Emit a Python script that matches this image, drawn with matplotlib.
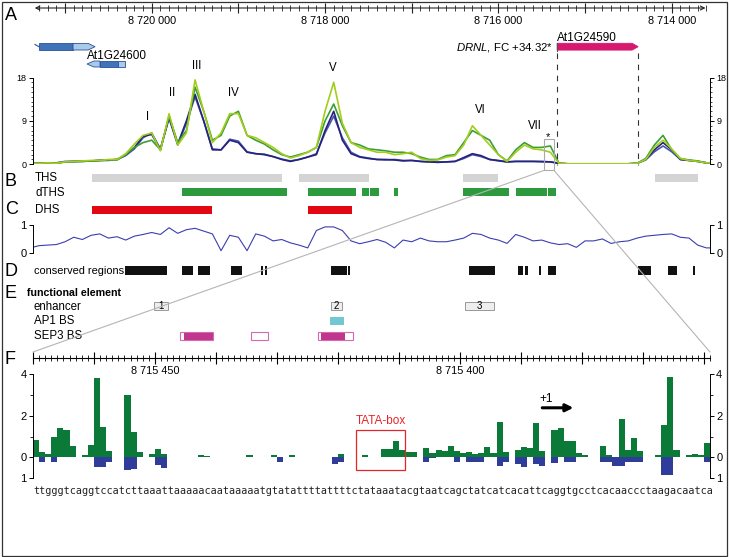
import numpy as np
import matplotlib
matplotlib.use("Agg")
import matplotlib.pyplot as plt
from matplotlib.patches import Rectangle, Polygon, ConnectionPatch
from matplotlib.transforms import blended_transform_factory
from matplotlib.ticker import MultipleLocator, FixedLocator, FuncFormatter

plt.rcParams['font.family'] = ['Liberation Sans', 'DejaVu Sans']
plt.rcParams['mathtext.fontset'] = 'custom'
plt.rcParams['mathtext.it'] = 'Liberation Sans:italic'
plt.rcParams['mathtext.rm'] = 'Liberation Sans'

# ---------------- data ----------------
view_left, view_right = 8721370, 8713558
ruler_ticks = [8721000, 8720000, 8719000, 8718000, 8717000, 8716000, 8715000, 8714000]
ruler_labels = [8720000, 8718000, 8716000, 8714000]

signal_pos = np.arange(8721400, 8713400, -100)
signal_navy1 = [0.2, 0.2, 0.2, 0.2, 0.5, 0.6, 0.6, 0.7, 0.8, 0.9,
                1.0, 2.0, 3.5, 5.8, 6.2, 3.0, 9.8, 4.2, 9.0, 14.5,
                9.0, 3.0, 3.0, 5.0, 4.5, 2.5, 2.2, 2.0, 1.6, 1.0,
                0.6, 1.0, 1.5, 2.0, 7.0, 11.0, 5.0, 2.2, 1.5, 1.2,
                1.0, 1.0, 0.9, 0.7, 0.8, 0.6, 0.5, 0.4, 0.5, 0.6,
                1.4, 2.2, 1.8, 1.0, 0.8, 0.5, 0.6, 0.6, 0.6, 0.6,
                0.5, 0.2, 0.1, 0.1, 0.1, 0.1, 0.1, 0.1, 0.1, 0.1,
                0.2, 1.0, 3.0, 4.5, 3.0, 1.0, 0.8, 0.6, 0.3, 0.3]
signal_navy2 = [0.2, 0.2, 0.2, 0.3, 0.6, 0.6, 0.7, 0.7, 0.8, 0.8,
                1.0, 1.8, 3.2, 5.5, 6.5, 3.2, 9.5, 4.0, 8.5, 14.0,
                9.0, 3.2, 3.0, 5.2, 4.8, 2.6, 2.2, 2.1, 1.6, 1.1,
                0.7, 1.0, 1.5, 2.2, 6.5, 10.0, 5.5, 2.5, 1.6, 1.3,
                1.0, 0.9, 1.0, 0.8, 0.8, 0.6, 0.5, 0.5, 0.5, 0.6,
                1.2, 2.0, 1.6, 1.0, 0.7, 0.5, 0.6, 0.6, 0.6, 0.5,
                0.5, 0.2, 0.1, 0.1, 0.1, 0.1, 0.1, 0.1, 0.1, 0.1,
                0.2, 0.9, 2.6, 3.8, 2.6, 1.0, 0.8, 0.6, 0.3, 0.3]
signal_green = [0.2, 0.1, 0.2, 0.3, 0.5, 0.5, 0.6, 0.7, 0.8, 0.9,
                0.9, 2.0, 3.5, 4.5, 5.0, 3.0, 10.0, 4.5, 7.0, 16.0,
                11.0, 5.0, 6.0, 10.0, 11.0, 6.0, 5.0, 4.2, 3.0, 2.0,
                1.5, 2.0, 2.5, 3.5, 9.0, 12.5, 8.0, 4.5, 4.0, 3.2,
                3.0, 2.8, 2.5, 2.5, 2.2, 1.5, 1.0, 1.0, 1.8, 2.0,
                4.5, 7.0, 6.0, 5.0, 2.0, 0.7, 3.0, 4.5, 3.5, 3.5,
                3.8, 0.2, 0.1, 0.1, 0.1, 0.1, 0.1, 0.1, 0.1, 0.1,
                0.2, 1.2, 4.0, 6.0, 3.0, 1.2, 0.9, 0.7, 0.3, 0.3]
signal_lime = [0.2, 0.2, 0.3, 0.2, 0.5, 0.6, 0.7, 0.8, 0.8, 1.0,
               1.0, 2.2, 4.2, 6.0, 6.5, 2.8, 10.5, 4.0, 6.5, 17.5,
               11.0, 4.5, 6.5, 10.5, 10.5, 6.0, 5.5, 4.5, 3.5, 2.2,
               1.3, 1.8, 2.5, 3.5, 11.0, 17.0, 8.5, 4.5, 3.5, 3.0,
               2.5, 2.5, 2.0, 2.2, 2.5, 1.2, 0.8, 0.9, 1.5, 1.8,
               4.0, 8.0, 6.0, 4.0, 2.0, 0.6, 2.5, 4.0, 3.2, 3.0,
               2.5, 0.2, 0.1, 0.1, 0.1, 0.1, 0.1, 0.1, 0.1, 0.1,
               0.2, 1.0, 3.5, 5.0, 3.2, 1.2, 0.8, 0.6, 0.3, 0.3]

conservation = [0.2, 0.28, 0.3, 0.32, 0.42, 0.58, 0.5, 0.65, 0.7, 0.55,
                0.6, 0.48, 0.62, 0.68, 0.75, 0.68, 0.92, 0.72, 0.85, 0.9,
                0.8, 0.7, 0.1, 0.65, 0.58, 0.1, 0.7, 0.62, 0.45, 0.5,
                0.38, 0.3, 0.2, 0.82, 0.95, 0.95, 0.82, 0.45, 0.35, 0.42,
                0.5, 0.4, 0.2, 0.48, 0.42, 0.55, 0.45, 0.42, 0.42, 0.48,
                0.55, 0.72, 0.68, 0.55, 0.48, 0.36, 0.68, 0.58, 0.45, 0.48,
                0.38, 0.32, 0.35, 0.22, 0.45, 0.45, 0.52, 0.36, 0.42, 0.45,
                0.55, 0.62, 0.65, 0.68, 0.7, 0.58, 0.55, 0.3, 0.2, 0.2]

peak_names = ['I', 'II', 'III', 'IV', 'V', 'VI', 'VII']

# gene models (genomic start, end)
t1_line = (8721347, 8721301)
t1_cds = (8721301, 8720908)
t1_utr = (8720908, 8720654)
t2_utr5 = (8720747, 8720597)
t2_cds = (8720597, 8720389)
t2_utr3 = (8720389, 8720308)
drnl_gene = (8715322, 8714387)

ths = [(8720689, 8718496), (8718300, 8717492), (8716408, 8716004), (8714192, 8713696)]
dths = [(8719650, 8718439), (8718196, 8717642), (8717573, 8717492), (8717481, 8717377),
        (8717204, 8717158), (8716408, 8715877), (8715796, 8715438), (8715427, 8715334)]
dhs = [(8720689, 8719304), (8718196, 8717689)]
conserved = [(8720308, 8719823), (8719650, 8719523), (8719466, 8719327), (8719085, 8718958),
             (8718739, 8718716), (8718693, 8718669), (8717931, 8717746), (8717735, 8717712),
             (8716338, 8716038), (8715773, 8715715), (8715692, 8715658), (8715531, 8715508),
             (8715427, 8715334), (8714388, 8714238), (8714042, 8713938), (8713753, 8713730)]
enhancers = [(8719973, 8719812, '1'), (8717931, 8717804, '2'), (8716385, 8716050, '3')]
ap1_bs = [(8717942, 8717781)]
sep3_outline = [(8719673, 8719293), (8718854, 8718658), (8718081, 8717677)]
sep3_filled = [(8719627, 8719293), (8718046, 8717769)]

# panel F
f_left, f_right = 8715470, 8715359
f_labels = [8715450, 8715400]
f_pos = np.arange(8715469.5, 8715359, -1)
sequence = ("ttgggtcaggtccatcttaaattaaaaacaataaaaatgtatattttattttct"
            "ataaatacgtaatcagctatcatcacattcaggtgcctcacaaccctaagacaatca")
f_green = [0.85, 0.25, 0.15, 1.0, 1.4, 1.3, 0.55, 0, 0.1, 0.6,
           3.8, 1.45, 0.3, 0, 0, 3.0, 1.2, 0.25, 0, 0.15,
           0.4, 0.15, 0, 0, 0, 0, 0, 0.12, 0.06, 0,
           0, 0, 0, 0, 0, 0.12, 0, 0, 0, 0.12,
           0, 0, 0.12, 0, 0, 0, 0, 0, 0, 0,
           0.15, 0, 0, 0, 0.12, 0, 0, 0.4, 0.4, 0.8,
           0.35, 0.25, 0.25, 0, 0.45, 0.2, 0.35, 0.3, 0.55, 0.3,
           0.2, 0.25, 0.15, 0.2, 0.5, 0.2, 1.7, 0.25, 0, 0.35,
           0.5, 0.45, 1.65, 0.3, 0, 1.3, 1.4, 0.8, 0.8, 0.2,
           0.1, 0, 0, 0.55, 0.12, 0, 1.85, 0.35, 0.95, 0.3,
           0, 0, 0.12, 1.55, 3.87, 0.35, 0, 0.12, 0.15, 0.12, 0.7]
f_blue = [0, 0.2, 0, 0.2, 0, 0, 0, 0, 0, 0,
          0.45, 0.45, 0.2, 0, 0, 0.6, 0.55, 0, 0, 0,
          0.35, 0.5, 0, 0, 0, 0, 0, 0, 0, 0,
          0, 0, 0, 0, 0, 0, 0, 0, 0, 0,
          0.2, 0, 0, 0, 0, 0, 0, 0, 0, 0.3,
          0.2, 0, 0, 0, 0, 0, 0, 0, 0, 0,
          0, 0, 0, 0, 0.2, 0.05, 0, 0, 0, 0.2,
          0, 0.2, 0.2, 0.2, 0, 0, 0.4, 0.2, 0, 0.3,
          0.45, 0, 0.3, 0.4, 0, 0.25, 0, 0.2, 0.2, 0,
          0, 0, 0, 0.2, 0.2, 0.4, 0.4, 0.2, 0.2, 0.2,
          0, 0, 0, 0.85, 0.85, 0, 0, 0, 0, 0, 0.2]
tata_box = (8715417, 8715409)
tss = 8715386

# ---------------- layout helpers ----------------
W, H = 729.0, 557.0
fig = plt.figure(figsize=(W / 100, H / 100), dpi=100)


def pax(x0, y0, x1, y1, z=1):
    ax = fig.add_axes([x0 / W, 1 - y1 / H, (x1 - x0) / W, (y1 - y0) / H], zorder=z)
    ax.patch.set_alpha(0)
    return ax


def ftext(x, y, s, **kw):
    kw.setdefault('va', 'center')
    kw.setdefault('ha', 'left')
    return fig.text(x / W, 1 - y / H, s, **kw)


def fmt_space(v):
    return f"{int(round(v)):,}".replace(",", " ")


# outer frame
fig.add_artist(Rectangle((1.5 / W, 1.5 / H), 725.5 / W, 554 / H, transform=fig.transFigure,
                         fill=False, edgecolor='#333333', lw=0.9))

# ---------------- Panel A: ruler ----------------
axr = pax(33, 2, 710, 14)
axr.set_xlim(view_left, view_right)
axr.set_ylim(0, 1)
for s in axr.spines.values():
    s.set_visible(False)
axr.spines['bottom'].set_position(('axes', 0.5))
axr.yaxis.set_visible(False)
axr.xaxis.set_major_locator(FixedLocator(ruler_ticks))
axr.xaxis.set_minor_locator(MultipleLocator(100))
axr.xaxis.set_major_formatter(FuncFormatter(
    lambda v, p: fmt_space(v) if int(round(v)) in ruler_labels else ""))
axr.tick_params(axis='x', which='major', direction='inout', length=7, width=0.8,
                labelsize=7.8, pad=2, color='#222222')
axr.tick_params(axis='x', which='minor', direction='inout', length=4, width=0.6, color='#222222')
axr.annotate('', xy=(8721350, 0.5), xytext=(8713610, 0.5),
             arrowprops=dict(arrowstyle='<->', lw=0.8, color='#222222',
                             shrinkA=0, shrinkB=0, mutation_scale=7))
ftext(5, 16, 'A', fontsize=13)

# ---------------- Panel A: signal ----------------
axs = pax(33, 77.5, 710, 164.3)
axs.set_xlim(view_left, view_right)
axs.set_ylim(0, 18)
axs.spines['top'].set_visible(False)
axs.spines['bottom'].set_visible(False)
axs.set_xticks([])
axs.yaxis.set_major_locator(FixedLocator([0, 9, 18]))
axs.yaxis.set_minor_locator(MultipleLocator(1))
axs.tick_params(axis='y', which='both', left=True, right=True, labelleft=True,
                labelright=True, labelsize=6.5, pad=1.5)
axs.tick_params(axis='y', which='major', length=3, width=0.7)
axs.tick_params(axis='y', which='minor', length=1.5, width=0.5)
for sp in ['left', 'right']:
    axs.spines[sp].set_linewidth(0.7)
axs.plot(signal_pos, signal_navy2, color='#4a55b0', lw=1.2)
axs.plot(signal_pos, signal_navy1, color='#25237a', lw=1.2)
axs.plot(signal_pos, signal_green, color='#3c9e36', lw=1.2)
axs.plot(signal_pos, signal_lime, color='#a2cd1c', lw=1.2)

peak_px = [(148, 117), (172, 93), (197, 66), (233, 93), (333, 68), (480, 110), (535, 126)]
for name, (px, py) in zip(peak_names, peak_px):
    ftext(px, py, name, ha='center', fontsize=8.3)
ftext(548, 137, '*', ha='center', fontsize=8)

# zoom box
zoom_box = Rectangle((f_left, -1.25), f_right - f_left, 6.4, fill=False,
                     edgecolor='#aaaaaa', lw=0.8, clip_on=False, zorder=5)
axs.add_patch(zoom_box)

# ---------------- Panel A: genes ----------------
axg = pax(33, 28, 710, 166, z=3)
axg.set_xlim(view_left, view_right)
axg.set_ylim(166, 28)
axg.axis('off')


def arrow_poly(ax, s, e, yc, h, head, fc, ec):
    d = 1 if e > s else -1
    pts = [(s, yc - h), (e - d * head, yc - h), (e, yc), (e - d * head, yc + h), (s, yc + h)]
    ax.add_patch(Polygon(pts, closed=True, facecolor=fc, edgecolor=ec, lw=0.6))


def box(ax, s, e, yc, h, fc, ec):
    ax.add_patch(Rectangle((s, yc - h), e - s, 2 * h, facecolor=fc, edgecolor=ec, lw=0.6))


dark_b, light_b, edge_b = '#3f74b8', '#a9cbea', '#2b4f96'
axg.plot([t1_line[0], t1_line[1]], [44.5, 46.7], color=edge_b, lw=0.8)
box(axg, t1_cds[0], t1_cds[1], 46.7, 3.3, dark_b, edge_b)
arrow_poly(axg, t1_utr[0], t1_utr[1], 46.7, 3.3, 80, light_b, edge_b)
arrow_poly(axg, t2_utr5[1], t2_utr5[0], 64, 3.0, 80, light_b, edge_b)
box(axg, t2_cds[0], t2_cds[1], 64, 3.0, dark_b, edge_b)
box(axg, t2_utr3[0], t2_utr3[1], 64, 3.0, light_b, edge_b)
ftext(87, 56, 'At1G24600', fontsize=8.5)

arrow_poly(axg, drnl_gene[0], drnl_gene[1], 46.7, 3.4, 70, '#d6186f', '#d6186f')
axg.plot([drnl_gene[0], drnl_gene[0]], [42.5, 51], color='#555555', lw=0.8)
ftext(557, 38, 'At1G24590', fontsize=8.5)
ftext(553, 47, r'$\mathit{DRNL}$, FC +34.32*', ha='right', fontsize=8.2)
for g in drnl_gene:
    axg.plot([g, g], [53, 165], color='#333333', lw=0.8, ls=(0, (5, 5)))

# ---------------- Panels B-E: tracks ----------------
axt = pax(33, 168, 710, 345, z=2)
axt.set_xlim(view_left, view_right)
axt.set_ylim(345, 168)
axt.axis('off')


def bars(intervals, yc, h, color):
    for s, e in intervals:
        axt.add_patch(Rectangle((s, yc - h / 2), e - s, h, facecolor=color, edgecolor='none'))


bars(ths, 178, 8, '#d4d4d4')
bars(dths, 192.5, 8, '#2e9a3e')
bars(dhs, 210, 8, '#e30613')
bars(conserved, 270.5, 9, '#111111')
for s, e, lab in enhancers:
    axt.add_patch(Rectangle((s, 302.5), e - s, 8, facecolor='#eeeeee', edgecolor='#999999', lw=0.7))
    axt.text((s + e) / 2, 306.5, lab, ha='center', va='center', fontsize=7)
for s, e in ap1_bs:
    axt.add_patch(Rectangle((s, 317), e - s, 8, facecolor='#72c7d2', edgecolor='none'))
for s, e in sep3_filled:
    axt.add_patch(Rectangle((s, 332), e - s, 8, facecolor='#c0358e', edgecolor='none'))
for s, e in sep3_outline:
    axt.add_patch(Rectangle((s, 332), e - s, 8, fill=False, edgecolor='#d76aae', lw=0.8))

ftext(5, 181, 'B', fontsize=13)
ftext(5, 209, 'C', fontsize=13)
ftext(5, 271, 'D', fontsize=13)
ftext(5, 294, 'E', fontsize=13)
ftext(5, 360, 'F', fontsize=13)
ftext(35, 178, 'THS', fontsize=8.3)
ftext(35, 192.5, 'dTHS', fontsize=8.3)
ftext(35, 210, 'DHS', fontsize=8.3)
ftext(34, 270.5, 'conserved regions', fontsize=7.9)
ftext(27, 292.5, 'functional element', fontsize=7.7, fontweight='bold')
ftext(34, 307, 'enhancer', fontsize=8.3)
ftext(34, 321, 'AP1 BS', fontsize=8.3)
ftext(34, 336, 'SEP3 BS', fontsize=8.3)

# conservation
axc = pax(33, 225.5, 710, 253.5, z=2)
axc.set_xlim(view_left, view_right)
axc.set_ylim(0, 1)
axc.plot(signal_pos, conservation, color='#3a3fb0', lw=0.8)
axc.spines['top'].set_visible(False)
axc.spines['bottom'].set_visible(False)
axc.set_xticks([])
axc.set_yticks([0, 1])
axc.tick_params(axis='y', left=True, right=True, labelleft=True, labelright=True,
                labelsize=8, length=3, width=0.7, pad=1.5)
for sp in ['left', 'right']:
    axc.spines[sp].set_linewidth(0.7)

# ---------------- Panel F ----------------
axfr = pax(33, 352, 710, 364, z=2)
axfr.set_xlim(f_left, f_right)
axfr.set_ylim(0, 1)
for s in ['top', 'left', 'right']:
    axfr.spines[s].set_visible(False)
axfr.spines['bottom'].set_position(('axes', 0.5))
axfr.spines['bottom'].set_linewidth(0.8)
axfr.yaxis.set_visible(False)
axfr.xaxis.set_major_locator(MultipleLocator(10))
axfr.xaxis.set_minor_locator(MultipleLocator(1))
axfr.xaxis.set_major_formatter(FuncFormatter(
    lambda v, p: fmt_space(v) if int(round(v)) in f_labels else ""))
axfr.tick_params(axis='x', which='major', direction='inout', length=9, width=0.8,
                 labelsize=7.8, pad=1)
axfr.tick_params(axis='x', which='minor', direction='inout', length=4.5, width=0.6)

axf = pax(33, 374, 710, 478.3, z=2)
axf.set_xlim(f_left, f_right)
axf.set_ylim(-1, 4)
axf.bar(f_pos, f_green, width=1.0, color='#0b7a38', linewidth=0)
axf.bar(f_pos, -np.array(f_blue), width=1.0, color='#2f3c9a', linewidth=0)
axf.spines['top'].set_visible(False)
axf.spines['bottom'].set_visible(False)
axf.set_xticks([])
axf.yaxis.set_major_locator(FixedLocator([-1, 0, 2, 4]))
axf.yaxis.set_major_formatter(FuncFormatter(lambda v, p: str(int(abs(round(v))))))
axf.yaxis.set_minor_locator(FixedLocator([1, 3]))
axf.tick_params(axis='y', which='both', left=True, right=True, labelleft=True,
                labelright=True, labelsize=8, pad=1.5)
axf.tick_params(axis='y', which='major', length=3, width=0.7)
axf.tick_params(axis='y', which='minor', length=2, width=0.6)
for sp in ['left', 'right']:
    axf.spines[sp].set_linewidth(0.7)

# sequence as a single monospaced string, one character per bp column
trans = blended_transform_factory(axf.transData, fig.transFigure)
bp_px = (710 - 33) / (f_left - f_right)
seq_fs = bp_px / 0.602 * 72 / 100
axf.text(f_left, 1 - 491.5 / H, sequence, transform=trans, ha='left', va='center',
         fontsize=seq_fs, family='DejaVu Sans Mono', color='#222222', clip_on=False)

axf.add_patch(Rectangle((tata_box[0], -0.58), tata_box[1] - tata_box[0], 1.89, fill=False,
                        edgecolor='#e3262b', lw=0.9, clip_on=False))
axf.text((tata_box[0] + tata_box[1]) / 2, 1.74, 'TATA-box', color='#e3262b',
         ha='center', va='center', fontsize=8.5)
axf.text(tss + 1, 2.78, '+1', ha='left', va='center', fontsize=8.5)
axf.annotate('', xy=(tss - 4.6, 2.38), xytext=(tss + 0.5, 2.38),
             arrowprops=dict(arrowstyle='-|>', lw=2.2, color='black',
                             shrinkA=0, shrinkB=0, mutation_scale=11))

# zoom connector lines
for xa in (f_left, f_right):
    cp = ConnectionPatch(xyA=(xa, -1.25), coordsA=axs.transData,
                         xyB=(xa, 1.0), coordsB=axfr.transData,
                         color='#b5b5b5', lw=0.8, zorder=10)
    fig.add_artist(cp)

fig.savefig('out.png', dpi=100)
